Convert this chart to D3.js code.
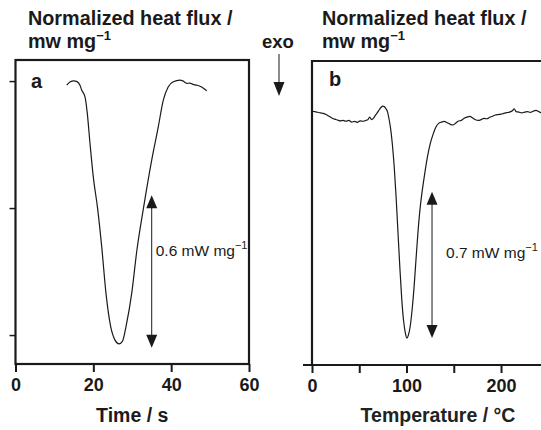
<!DOCTYPE html>
<html>
<head>
<meta charset="utf-8">
<script src="https://cdn.jsdelivr.net/npm/d3@7"></script>
<style>
  html, body { margin: 0; padding: 0; background: #fff; }
  svg { display: block; font-family: "Liberation Sans", Arial, Helvetica, sans-serif; }
</style>
</head>
<body>
<svg id="chart" width="541" height="430"></svg>
<script>
// Panel a: normalized heat flux vs time (mW mg^-1, relative to baseline)
const timeS = [13.15, 14.0, 15.0, 15.8, 16.57, 17.0, 17.86, 18.45, 19.14, 19.99, 21.12, 22.15, 23.25, 24.46, 25.57, 26.59, 27.5, 28.39, 29.86, 31.2, 32.84, 35.0, 36.69, 37.98, 39.26, 40.54, 42.27, 43.0, 43.99, 44.8, 45.6, 46.56, 47.7, 49.13];
const fluxA = [-0.016, -0.004, 0.001, -0.002, -0.016, -0.035, -0.062, -0.127, -0.245, -0.377, -0.504, -0.652, -0.836, -0.967, -1.020, -1.035, -1.024, -0.967, -0.836, -0.665, -0.504, -0.311, -0.180, -0.075, -0.022, -0.003, 0.004, 0.001, -0.009, -0.008, -0.013, -0.016, -0.022, -0.038];
const timeTicks = [0, 20, 40, 60];
const fluxTicksA = [0, -0.5, -1.0];

// Panel b: normalized heat flux vs temperature
const tempC = [0, 3, 6, 9, 12, 15, 18, 21, 24, 27, 30, 33, 36, 39, 42, 45, 48, 51, 54, 57, 59, 61, 63, 65, 67, 69, 71, 73, 75, 76.5, 78, 80, 81.5, 83, 85, 87, 89, 91, 93, 95, 97, 99, 100.5, 102, 104, 106, 108, 110, 112, 114, 116, 118, 120, 122, 125, 128, 131, 134, 137, 140, 143, 146, 149, 152, 155, 158, 161, 164, 167, 170, 173, 176, 179, 182, 185, 188, 191, 194, 197, 200, 203, 206, 209, 212, 214, 216, 219, 222, 225, 228, 231, 234, 237, 240, 243];
const fluxB = [0.022, 0.020, 0.017, 0.014, 0.012, 0.006, -0.002, -0.010, -0.016, -0.020, -0.024, -0.022, -0.026, -0.022, -0.030, -0.027, -0.031, -0.024, -0.026, -0.022, -0.019, -0.006, -0.018, -0.012, 0.002, 0.014, 0.028, 0.040, 0.046, 0.044, 0.036, 0.018, -0.015, -0.055, -0.135, -0.245, -0.390, -0.560, -0.730, -0.880, -0.985, -1.045, -1.064, -1.050, -1.005, -0.925, -0.820, -0.690, -0.565, -0.460, -0.380, -0.315, -0.255, -0.200, -0.135, -0.090, -0.055, -0.036, -0.030, -0.027, -0.033, -0.040, -0.044, -0.035, -0.025, -0.022, -0.012, -0.006, -0.003, -0.010, -0.019, -0.022, -0.018, -0.012, -0.014, -0.007, -0.002, 0.004, 0.006, 0.008, 0.012, 0.015, 0.018, 0.024, 0.034, 0.020, 0.018, 0.014, 0.018, 0.020, 0.017, 0.022, 0.026, 0.020, 0.012];
const tempTicks = [0, 50, 100, 150, 200];
const tempLabels = [0, 100, 200];

// Peak-height markers: position, lower end and span in mW mg^-1
const peakA = { x: 35, low: -1.05, span: 0.6, label: "0.6 mW mg" };
const peakB = { x: 127, low: -1.064, span: 0.7, label: "0.7 mW mg" };

const svg = d3.select("#chart");
const ink = "#1a1a1a";

// Filled triangular head at (x, y); dir = -1 points up, +1 points down
function head(g, x, y, dir, w = 11, h = 13) {
  g.append("path")
    .attr("d", `M${x},${y} L${x - w / 2},${y - dir * h} L${x + w / 2},${y - dir * h} Z`)
    .attr("fill", ink);
}

function doubleArrow(g, x, yLow, yHigh) {
  g.append("line")
    .attr("x1", x).attr("x2", x).attr("y1", yLow - 10).attr("y2", yHigh + 10)
    .attr("stroke", ink).attr("stroke-width", 1);
  head(g, x, yLow, 1);
  head(g, x, yHigh, -1);
}

// ---------- Panel a ----------
const A = { left: 15.5, right: 249, top: 60, bottom: 364 };
const xA = d3.scaleLinear().domain([0, 60]).range([A.left, A.right]);
const yA = d3.scaleLinear().domain([-1.114, 0.083]).range([A.bottom, A.top]);

const gA = svg.append("g");
gA.append("g")
  .attr("transform", `translate(0,${A.bottom})`)
  .call(d3.axisBottom(xA).tickValues(timeTicks).tickSize(8).tickSizeOuter(0).tickPadding(6))
  .call(g => g.select(".domain").remove())
  .call(g => g.selectAll(".tick line").attr("stroke", ink).attr("stroke-width", 2))
  .call(g => g.selectAll(".tick text").attr("fill", ink).attr("font-size", 18).attr("font-weight", "bold")
    .attr("font-family", "Liberation Sans, Arial, sans-serif"));
gA.append("g")
  .attr("transform", `translate(${A.left},0)`)
  .call(d3.axisLeft(yA).tickValues(fluxTicksA).tickSize(6).tickFormat(""))
  .call(g => g.select(".domain").remove())
  .call(g => g.selectAll(".tick line").attr("stroke", ink).attr("stroke-width", 1.5));
gA.append("rect")
  .attr("x", A.left).attr("y", A.top)
  .attr("width", A.right - A.left).attr("height", A.bottom - A.top)
  .attr("fill", "none").attr("stroke", ink).attr("stroke-width", 2.2);

gA.append("path")
  .datum(timeS.map((t, i) => [t, fluxA[i]]))
  .attr("fill", "none").attr("stroke", ink).attr("stroke-width", 1.2)
  .attr("d", d3.line().x(d => xA(d[0])).y(d => yA(d[1])).curve(d3.curveMonotoneX));

doubleArrow(gA, xA(peakA.x), yA(peakA.low), yA(peakA.low + peakA.span));

const labA = gA.append("text")
  .attr("x", xA(peakA.x) + 4).attr("y", 256)
  .attr("font-size", 15.5).attr("fill", ink);
labA.append("tspan").text(peakA.label);
labA.append("tspan").attr("dy", -7).attr("font-size", 11).text("\u22121");

gA.append("text").attr("x", 31).attr("y", 88)
  .attr("font-size", 20).attr("font-weight", "bold").attr("fill", ink).text("a");

gA.append("text").attr("x", xA(30)).attr("y", 422).attr("text-anchor", "middle")
  .attr("font-size", 19.5).attr("font-weight", "bold").attr("fill", ink).text("Time / s");

// ---------- Panel b ----------
const B = { left: 312, right: 541, top: 61, bottom: 365 };
const xB = d3.scaleLinear().domain([0, 242.3]).range([B.left, B.right]);
const yB = d3.scaleLinear().domain([-1.193, 0.2625]).range([B.bottom, B.top]);

const gB = svg.append("g");
gB.append("g")
  .attr("transform", `translate(0,${B.bottom})`)
  .call(d3.axisBottom(xB).tickValues(tempTicks).tickSize(8).tickSizeOuter(0).tickPadding(6)
    .tickFormat(d => tempLabels.includes(d) ? d : ""))
  .call(g => g.select(".domain").remove())
  .call(g => g.selectAll(".tick line").attr("stroke", ink).attr("stroke-width", 2))
  .call(g => g.selectAll(".tick text").attr("fill", ink).attr("font-size", 18).attr("font-weight", "bold")
    .attr("font-family", "Liberation Sans, Arial, sans-serif"));
gB.append("path")
  .attr("d", `M${B.right},${B.top}H${B.left}V${B.bottom}`)
  .attr("fill", "none").attr("stroke", ink).attr("stroke-width", 2.2);
gB.append("line")
  .attr("x1", B.left - 9).attr("x2", B.right)
  .attr("y1", B.bottom).attr("y2", B.bottom)
  .attr("stroke", ink).attr("stroke-width", 2.2);

gB.append("path")
  .datum(tempC.map((t, i) => [t, fluxB[i]]))
  .attr("fill", "none").attr("stroke", ink).attr("stroke-width", 1.2)
  .attr("d", d3.line().x(d => xB(d[0])).y(d => yB(d[1])).curve(d3.curveMonotoneX));

doubleArrow(gB, xB(peakB.x), yB(peakB.low), yB(peakB.low + peakB.span));

const labB = gB.append("text")
  .attr("x", xB(peakB.x) + 14).attr("y", 258)
  .attr("font-size", 15.5).attr("fill", ink);
labB.append("tspan").text(peakB.label);
labB.append("tspan").attr("dy", -7).attr("font-size", 11).text("\u22121");

gB.append("text").attr("x", 329).attr("y", 86)
  .attr("font-size", 20).attr("font-weight", "bold").attr("fill", ink).text("b");

gB.append("text").attr("x", 438).attr("y", 422).attr("text-anchor", "middle")
  .attr("font-size", 19.5).attr("font-weight", "bold").attr("fill", "#222").text("Temperature / \u00B0C");

// ---------- Y-axis titles ----------
function yTitle(x) {
  svg.append("text").attr("x", x).attr("y", 25)
    .attr("font-size", 19.8).attr("font-weight", "bold").attr("fill", ink)
    .text("Normalized heat flux /");
  const l2 = svg.append("text").attr("x", x).attr("y", 48)
    .attr("font-size", 19.8).attr("font-weight", "bold").attr("fill", ink);
  l2.append("tspan").text("mw mg");
  l2.append("tspan").attr("dy", -8).attr("font-size", 13).text("\u22121");
}
yTitle(28);
yTitle(322);

// exo direction marker
svg.append("text").attr("x", 278).attr("y", 48).attr("text-anchor", "middle")
  .attr("font-size", 18.5).attr("font-weight", "bold").attr("fill", ink).text("exo");
svg.append("line")
  .attr("x1", 279).attr("x2", 279).attr("y1", 54).attr("y2", 86)
  .attr("stroke", ink).attr("stroke-width", 1);
head(svg, 279, 96, 1, 11, 14);
</script>
</body>
</html>
